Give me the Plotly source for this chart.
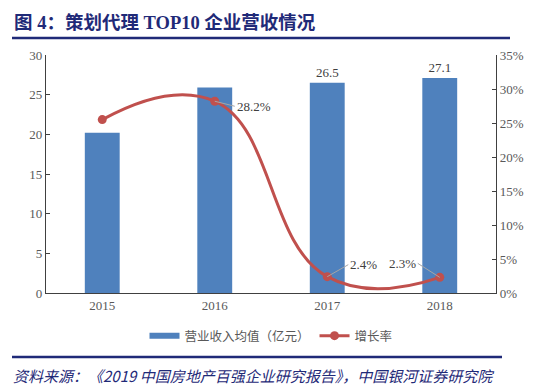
import plotly.graph_objects as go

years = ["2015", "2016", "2017", "2018"]
revenue = [20.2, 25.9, 26.5, 27.1]          # 营业收入均值（亿元）
growth = [25.5, 28.2, 2.4, 2.3]             # 增长率 %
bar_labels = ["", "", "26.5", "27.1"]
growth_labels = ["", "28.2%", "2.4%", "2.3%"]

xpos = list(range(len(years)))

W, H = 554, 388
L, R, T, B = 46, 58, 55, 95
pw, ph = W - L - R, H - T - B

def px(x):
    return (x - L) / pw

def py(y):
    return (H - B - y) / ph

serif = "Liberation Serif, Noto Sans CJK SC, serif"
cjk = "Noto Sans CJK SC, sans-serif"
navy = "#1f2a78"
bar_c = "#4f81bd"
line_c = "#c0504d"
grey_t = "#595959"

fig = go.Figure()
fig.add_trace(go.Bar(
    x=xpos, y=revenue, name="营业收入均值（亿元）", showlegend=False,
    marker=dict(color=bar_c, line=dict(width=0)),
    width=0.31, text=bar_labels, textposition="outside",
    textfont=dict(family=serif, size=13, color="#404040"),
    cliponaxis=False,
))
# legend entry for the bars (wide flat swatch)
fig.add_trace(go.Scatter(
    x=[None], y=[None], name="营业收入均值（亿元）", mode="lines",
    line=dict(color=bar_c, width=6),
))
fig.add_trace(go.Scatter(
    x=xpos, y=growth, name="增长率", yaxis="y2",
    mode="lines+markers",
    line=dict(color=line_c, width=3, shape="spline", smoothing=1.3),
    marker=dict(color=line_c, size=9),
))

# growth labels with leader lines
offsets = {1: (20, 5), 2: (21, -12), 3: (-22, -14)}
for i, lab in enumerate(growth_labels):
    if not lab:
        continue
    ax, ay = offsets[i]
    fig.add_annotation(
        x=xpos[i], y=growth[i], xref="x", yref="y2",
        text=lab, showarrow=True, arrowhead=0, arrowwidth=1,
        arrowcolor="#a6a6a6", ax=ax, ay=ay,
        font=dict(family=serif, size=13, color="#404040"),
        xanchor="left" if ax > 0 else "right",
        standoff=0, startstandoff=0,
    )

# title
fig.add_annotation(
    x=px(12), y=py(22), xref="paper", yref="paper",
    text="<b>图 4：策划代理 TOP10 企业营收情况</b>", showarrow=False,
    xanchor="left", yanchor="middle",
    font=dict(family="Liberation Serif, Noto Sans CJK SC", size=18.5, color=navy),
)
# source
fig.add_annotation(
    x=px(11), y=py(375), xref="paper", yref="paper",
    text="<i>资料来源：《2019 中国房地产百强企业研究报告》，中国银河证券研究院</i>",
    showarrow=False, xanchor="left", yanchor="middle",
    font=dict(family=cjk, size=15, color=navy),
)
fig.add_shape(type="line", xref="paper", yref="paper",
              x0=px(12), x1=px(510), y0=py(38), y1=py(38),
              line=dict(color=navy, width=2.5))
fig.add_shape(type="line", xref="paper", yref="paper",
              x0=px(12), x1=px(502), y0=py(357), y1=py(357),
              line=dict(color=navy, width=2.5))

axis_font = dict(family=serif, size=13, color=grey_t)
fig.update_layout(
    width=W, height=H,
    margin=dict(l=L, r=R, t=T, b=B),
    paper_bgcolor="white", plot_bgcolor="white",
    showlegend=True,
    legend=dict(orientation="h", x=0.5, xanchor="center", y=py(336), yanchor="middle",
                font=dict(family=cjk, size=12.5, color=grey_t), itemwidth=30),
    xaxis=dict(range=[-0.5, len(years) - 0.5], tickvals=xpos, ticktext=years,
               showline=True, linecolor="#404040", linewidth=1.2,
               ticks="", tickfont=axis_font, showgrid=False, zeroline=False),
    yaxis=dict(range=[0, 30], dtick=5, showline=True, linecolor="#404040", linewidth=1.2,
               ticks="inside", ticklen=4, tickcolor="#404040", showgrid=False,
               tickfont=axis_font, zeroline=False),
    yaxis2=dict(range=[0, 35], dtick=5, overlaying="y", side="right",
                showline=True, linecolor="#404040", linewidth=1.2,
                ticks="inside", ticklen=4, tickcolor="#404040", showgrid=False,
                ticksuffix="%", tickfont=axis_font, zeroline=False),
)
fig.write_html("out.html", config={"displayModeBar": False},
               post_script="document.body.style.margin='0';")
